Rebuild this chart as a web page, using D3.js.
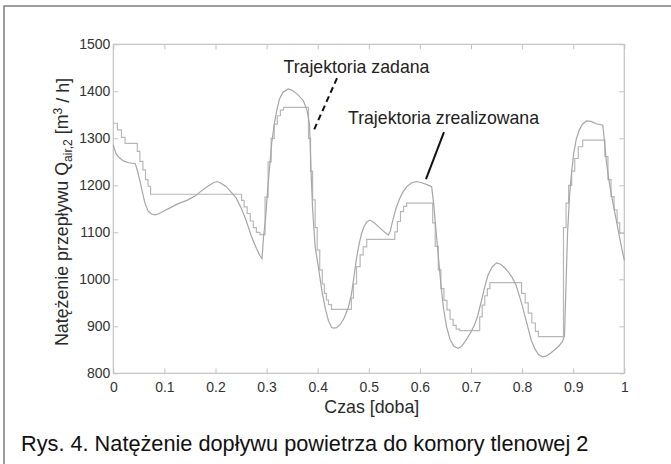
<!DOCTYPE html>
<html>
<head>
<meta charset="utf-8">
<script src="https://cdn.jsdelivr.net/npm/d3@7/dist/d3.min.js"></script>
<style>
  html, body { margin: 0; padding: 0; background: #fff; }
  svg { display: block; font-family: "Liberation Sans", Arial, Helvetica, sans-serif; }
</style>
</head>
<body>
<svg id="chart" width="671" height="464"></svg>
<script>
// ---- data ----
// "Trajektoria zadana" (set-point, piecewise constant): times of step changes and values
const setTime = [0, 0.008, 0.016, 0.023, 0.047, 0.052, 0.058, 0.063, 0.068, 0.073,
  0.251, 0.256, 0.262, 0.268, 0.274, 0.280, 0.287,
  0.297, 0.303, 0.309, 0.315, 0.321, 0.327, 0.333,
  0.382, 0.386, 0.390, 0.395, 0.399, 0.404, 0.409, 0.413, 0.417, 0.421, 0.427,
  0.466, 0.470, 0.476, 0.483, 0.489, 0.496,
  0.551, 0.556, 0.562, 0.568, 0.574,
  0.625, 0.630, 0.636, 0.641, 0.647, 0.653, 0.659, 0.665, 0.671, 0.678,
  0.717, 0.722, 0.727, 0.732, 0.737,
  0.799, 0.806, 0.812, 0.819, 0.826, 0.832,
  0.881, 0.886, 0.891, 0.897, 0.903, 0.910, 0.9186,
  0.962, 0.968, 0.974, 0.980, 0.986, 0.991, 1.0];
const setFlow = [1332, 1318, 1302, 1289, 1272, 1251, 1233, 1212, 1198, 1181,
  1168, 1154, 1140, 1124, 1110, 1100, 1095,
  1175, 1250, 1300, 1330, 1348, 1360, 1366,
  1300, 1230, 1169, 1110, 1062, 1020, 990, 970, 956, 946, 936,
  960, 990, 1027, 1052, 1069, 1085,
  1101, 1123, 1144, 1155, 1162,
  1120, 1070, 1020, 980, 955, 935, 915, 902, 894, 891,
  920, 945, 965, 980, 993,
  970, 950, 928, 907, 889, 878,
  1110, 1162, 1200, 1230, 1257, 1282, 1296,
  1261, 1212, 1176, 1148, 1120, 1098, 1098];

// "Trajektoria zrealizowana" (realised flow)
const realTime = [0, 0.005, 0.01, 0.02, 0.03, 0.043, 0.047, 0.052, 0.057, 0.062, 0.068, 0.075, 0.082, 0.09,
  0.1, 0.111, 0.125, 0.144, 0.16, 0.17, 0.185, 0.197, 0.203, 0.21, 0.221, 0.232, 0.24, 0.25, 0.26, 0.27,
  0.28, 0.287, 0.291, 0.294, 0.298, 0.302, 0.306, 0.31, 0.315, 0.32, 0.325, 0.332, 0.3425, 0.35, 0.36,
  0.372, 0.379, 0.384, 0.387, 0.39, 0.395, 0.4, 0.408, 0.415, 0.421, 0.427, 0.4305, 0.437, 0.445, 0.452,
  0.46, 0.466, 0.471, 0.476, 0.481, 0.486, 0.491, 0.496, 0.502, 0.51, 0.52, 0.53, 0.538, 0.542, 0.547,
  0.553, 0.56, 0.567, 0.575, 0.585, 0.594, 0.605, 0.615, 0.623, 0.627, 0.631, 0.636, 0.641, 0.646, 0.652,
  0.659, 0.667, 0.675, 0.682, 0.69, 0.7, 0.707, 0.713, 0.719, 0.726, 0.733, 0.741, 0.75, 0.758, 0.766,
  0.774, 0.781, 0.788, 0.794, 0.8, 0.806, 0.812, 0.818, 0.825, 0.832, 0.84, 0.848, 0.856, 0.864, 0.872,
  0.879, 0.883, 0.886, 0.889, 0.893, 0.897, 0.901, 0.906, 0.912, 0.918, 0.926, 0.935, 0.945, 0.958,
  0.961, 0.965, 0.97, 0.975, 0.98, 0.985, 0.99, 0.995, 1.0];
const realFlow = [1286, 1268, 1260, 1252, 1248, 1246, 1232, 1210, 1185, 1162, 1145, 1139, 1137, 1140,
  1146, 1152, 1160, 1168, 1177, 1186, 1198, 1206, 1208, 1205, 1197, 1184, 1174, 1152, 1125, 1092,
  1066, 1050, 1044, 1090, 1130, 1190, 1240, 1290, 1330, 1360, 1383, 1398, 1405, 1402, 1394,
  1380, 1360, 1330, 1230, 1150, 1069, 1035, 977, 937, 912, 898, 896, 897, 905, 918,
  940, 968, 1005, 1045, 1075, 1098, 1113, 1122, 1126, 1121, 1111, 1101, 1094, 1102, 1126,
  1150, 1171, 1186, 1198, 1206, 1208, 1205, 1201, 1197, 1160, 1110, 1050, 990, 940, 900,
  872, 857, 853, 858, 870, 888, 903, 922, 948, 980, 1008, 1026, 1035, 1032, 1024,
  1014, 1003, 988, 967, 945, 920, 895, 870, 852, 840, 835, 837, 843, 850, 858,
  868, 880, 990, 1100, 1180, 1230, 1268, 1298, 1318, 1330, 1337, 1336, 1331, 1328,
  1295, 1250, 1210, 1178, 1150, 1122, 1093, 1066, 1040];

// axis ticks
const xTicks = [0, 0.1, 0.2, 0.3, 0.4, 0.5, 0.6, 0.7, 0.8, 0.9, 1];
const xTickLabels = ["0", "0.1", "0.2", "0.3", "0.4", "0.5", "0.6", "0.7", "0.8", "0.9", "1"];
const yTicks = [800, 900, 1000, 1100, 1200, 1300, 1400, 1500];
const yTickLabels = ["800", "900", "1000", "1100", "1200", "1300", "1400", "1500"];

// annotations (data coordinates)
const annotText = ["Trajektoria zadana", "Trajektoria zrealizowana"];
const annotTextAt = [[0.4759, 1438], [0.6462, 1330]];
const annotLineFrom = [[0.4378, 1428], [0.6471, 1313]];
const annotLineTo = [[0.3928, 1318], [0.6119, 1213]];

const xLabel = "Czas [doba]";
const caption = "Rys. 4. Natężenie dopływu powietrza do komory tlenowej 2";

// ---- layout ----
const svg = d3.select("#chart");
const L = 113.3, R = 624.3, T = 44.3, B = 373.3;
const x = d3.scaleLinear().domain([0, 1]).range([L, R]);
const y = d3.scaleLinear().domain([800, 1500]).range([B, T]);

function fit(sel, target) {
  const fs = parseFloat(sel.attr("font-size"));
  const len = sel.node().getComputedTextLength();
  sel.attr("font-size", (fs * target / len).toFixed(2));
}

// outer frame
svg.append("rect").attr("x", 4).attr("y", 6).attr("width", 720).attr("height", 520)
  .attr("fill", "none").attr("stroke", "#858585").attr("stroke-width", 1.6);

// axes
const tickColor = "#c2c2c2";
const gL = svg.append("g").attr("transform", `translate(${L},0)`)
  .call(d3.axisLeft(y).tickValues(yTicks).tickSize(-5).tickPadding(3)
    .tickFormat((d, i) => yTickLabels[i]));
const gB = svg.append("g").attr("transform", `translate(0,${B})`)
  .call(d3.axisBottom(x).tickValues(xTicks).tickSize(-5).tickPadding(9)
    .tickFormat((d, i) => xTickLabels[i]));
const gR = svg.append("g").attr("transform", `translate(${R},0)`)
  .call(d3.axisRight(y).tickValues(yTicks).tickSize(-5).tickFormat(""));
const gT = svg.append("g").attr("transform", `translate(0,${T})`)
  .call(d3.axisTop(x).tickValues(xTicks).tickSize(-5).tickFormat(""));
[gL, gB, gR, gT].forEach(g => {
  g.select(".domain").remove();
  g.selectAll(".tick line").attr("stroke", tickColor);
  g.selectAll("text").attr("font-size", 14).attr("fill", "#333")
    .attr("font-family", "'Liberation Sans', Arial, Helvetica, sans-serif");
});
svg.append("rect").attr("x", L).attr("y", T).attr("width", R - L).attr("height", B - T)
  .attr("fill", "none").attr("stroke", tickColor).attr("stroke-width", 1.2);

// series
const setData = setTime.map((t, i) => [t, setFlow[i]]);
const realData = realTime.map((t, i) => [t, realFlow[i]]);
svg.append("path").datum(setData)
  .attr("d", d3.line().x(d => x(d[0])).y(d => y(d[1])).curve(d3.curveStepAfter))
  .attr("fill", "none").attr("stroke", "#b8b8b8").attr("stroke-width", 1.2);
svg.append("path").datum(realData)
  .attr("d", d3.line().x(d => x(d[0])).y(d => y(d[1])))
  .attr("fill", "none").attr("stroke", "#a6a6a6").attr("stroke-width", 1.2);

// annotations
annotText.forEach((txt, i) => {
  svg.append("text").attr("x", x(annotTextAt[i][0])).attr("y", y(annotTextAt[i][1]))
    .attr("text-anchor", "middle").attr("font-size", 17.7).attr("fill", "#222").text(txt);
  svg.append("line")
    .attr("x1", x(annotLineFrom[i][0])).attr("y1", y(annotLineFrom[i][1]))
    .attr("x2", x(annotLineTo[i][0])).attr("y2", y(annotLineTo[i][1]))
    .attr("stroke", "#111").attr("stroke-width", 2)
    .attr("stroke-dasharray", i === 0 ? "6,4" : null);
});

// axis labels
const xl = svg.append("text").attr("x", (L + R) / 2 + 3).attr("y", 413)
  .attr("text-anchor", "middle").attr("font-size", 17.5).attr("fill", "#2a2a2a").text(xLabel);
fit(xl, 95);

const yl = svg.append("text").attr("transform", "translate(68,212) rotate(-90)")
  .attr("text-anchor", "middle").attr("font-size", 17.7).attr("fill", "#2a2a2a");
yl.append("tspan").text("Natężenie przepływu Q");
yl.append("tspan").attr("font-size", "0.68em").attr("dy", "0.3em").text("air,2");
yl.append("tspan").attr("dy", "-0.2em").text(" [m");
yl.append("tspan").attr("font-size", "0.68em").attr("dy", "-0.5em").text("3");
yl.append("tspan").attr("dy", "0.4em").text(" / h]");
fit(yl, 268);

// caption
const cap = svg.append("text").attr("x", 21).attr("y", 450.5)
  .attr("font-size", 21.7).attr("fill", "#111").text(caption);
fit(cap, 567);
</script>
</body>
</html>
